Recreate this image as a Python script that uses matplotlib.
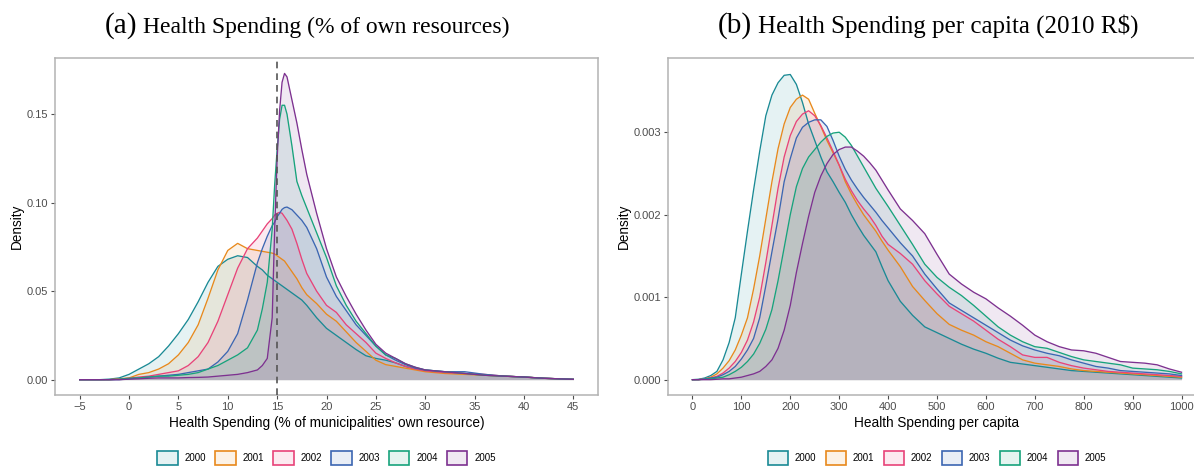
import numpy as np
import matplotlib
matplotlib.use("Agg")
import matplotlib.pyplot as plt
from matplotlib.patches import Patch
from matplotlib.colors import to_rgba

years = ["2000", "2001", "2002", "2003", "2004", "2005"]
colors = ["#1a8a95", "#e8891c", "#e84379", "#3c66b2", "#17a37c", "#7d3190"]

# panel (a): health spending as % of own resources
share_x = [-5, -3, -2, -1, 0, 1, 2, 3, 4, 5, 6, 7, 8, 9, 10, 11, 12, 13, 13.5, 14,
           14.5, 14.75, 15, 15.25, 15.5, 15.75, 16, 16.5, 17, 17.5, 18, 19, 20, 21, 22,
           23, 24, 25, 26, 27, 28, 29, 30, 32, 34, 36, 38, 40, 42, 45]
share_2000 = [0, 0, 0.0003, 0.001, 0.003, 0.006, 0.009, 0.013, 0.019, 0.026, 0.034, 0.044,
              0.055, 0.064, 0.068, 0.070, 0.069, 0.064, 0.062, 0.059, 0.057, 0.056, 0.055,
              0.054, 0.053, 0.052, 0.051, 0.049, 0.047, 0.045, 0.042, 0.035, 0.029, 0.025,
              0.021, 0.017, 0.0135, 0.012, 0.011, 0.0095, 0.0075, 0.006, 0.005, 0.004,
              0.0035, 0.0025, 0.002, 0.0015, 0.0008, 0.0002]
share_2001 = [0, 0, 0, 0.0005, 0.001, 0.003, 0.004, 0.006, 0.009, 0.014, 0.021, 0.031,
              0.046, 0.062, 0.073, 0.077, 0.074, 0.073, 0.0725, 0.072, 0.0715, 0.071, 0.070,
              0.069, 0.068, 0.067, 0.065, 0.061, 0.057, 0.052, 0.048, 0.043, 0.037, 0.033,
              0.027, 0.021, 0.016, 0.011, 0.0085, 0.0075, 0.0065, 0.0055, 0.0045, 0.0035,
              0.003, 0.0025, 0.002, 0.0015, 0.0008, 0.0002]
share_2002 = [0, 0, 0, 0.0003, 0.0008, 0.0015, 0.002, 0.003, 0.004, 0.005, 0.008, 0.013,
              0.021, 0.033, 0.048, 0.063, 0.074, 0.080, 0.084, 0.088, 0.091, 0.093, 0.094,
              0.0945, 0.094, 0.092, 0.090, 0.085, 0.077, 0.068, 0.060, 0.050, 0.042, 0.038,
              0.031, 0.026, 0.021, 0.015, 0.012, 0.0095, 0.0075, 0.006, 0.005, 0.004,
              0.0035, 0.003, 0.002, 0.0015, 0.0008, 0.0002]
share_2003 = [0, 0, 0, 0, 0.0005, 0.001, 0.0015, 0.002, 0.0025, 0.003, 0.004, 0.005, 0.006,
              0.010, 0.016, 0.026, 0.045, 0.066, 0.074, 0.081, 0.087, 0.089, 0.092, 0.094,
              0.0962, 0.0972, 0.0975, 0.096, 0.093, 0.090, 0.086, 0.074, 0.058, 0.047, 0.039,
              0.031, 0.025, 0.019, 0.014, 0.011, 0.0085, 0.0065, 0.0055, 0.0045, 0.0045,
              0.003, 0.002, 0.0015, 0.0008, 0.0002]
share_2004 = [0, 0, 0, 0.0003, 0.0008, 0.001, 0.0015, 0.002, 0.002, 0.0025, 0.003, 0.004,
              0.006, 0.008, 0.011, 0.014, 0.018, 0.028, 0.040, 0.055, 0.085, 0.110, 0.130,
              0.147, 0.155, 0.155, 0.150, 0.132, 0.112, 0.104, 0.097, 0.083, 0.069, 0.053,
              0.042, 0.033, 0.026, 0.019, 0.014, 0.012, 0.009, 0.007, 0.0055, 0.0045,
              0.0035, 0.0025, 0.002, 0.0015, 0.0008, 0.0002]
share_2005 = [0, 0, 0, 0, 0.0003, 0.0005, 0.0008, 0.001, 0.001, 0.001, 0.0012, 0.0013,
              0.0015, 0.002, 0.0025, 0.003, 0.004, 0.0055, 0.008, 0.012, 0.035, 0.085, 0.125,
              0.152, 0.168, 0.173, 0.171, 0.158, 0.145, 0.130, 0.116, 0.094, 0.074, 0.058,
              0.047, 0.037, 0.028, 0.020, 0.015, 0.012, 0.009, 0.007, 0.0055, 0.0045,
              0.0035, 0.0025, 0.002, 0.0015, 0.0008, 0.0002]

# panel (b): health spending per capita (2010 R$)
pc_x = [0, 12.5, 25, 37.5, 50, 62.5, 75, 87.5, 100, 112.5, 125, 137.5, 150, 162.5, 175,
        187.5, 200, 212.5, 225, 237.5, 250, 262.5, 275, 287.5, 300, 312.5, 325, 337.5,
        350, 362.5, 375, 387.5, 400, 425, 450, 475, 500, 525, 550, 575, 600, 625, 650,
        675, 700, 725, 750, 775, 800, 825, 850, 875, 900, 925, 950, 975, 1000]
pc_2000 = [0, 0.000005, 0.00002, 0.00005, 0.0001, 0.00024, 0.00045, 0.00075, 0.00128,
           0.0018, 0.0023, 0.00277, 0.0032, 0.00345, 0.0036, 0.00369, 0.0037, 0.00358,
           0.00336, 0.0031, 0.0029, 0.0027, 0.00252, 0.0024, 0.00227, 0.00215, 0.002,
           0.00187, 0.00175, 0.00165, 0.00155, 0.00137, 0.0012,
           0.00095, 0.00078, 0.00064, 0.00057, 0.0005, 0.00043, 0.00037, 0.00032, 0.00026,
           0.00021, 0.00019, 0.00017, 0.00015, 0.00013, 0.00011, 0.0001, 0.00009, 0.00008,
           0.00007, 0.00006, 0.00005, 0.00004, 0.00003, 0.00002]
pc_2001 = [0, 0, 0.00001, 0.00003, 0.00007, 0.00014, 0.00023, 0.00036, 0.00054, 0.00075,
           0.0011, 0.0015, 0.00195, 0.0024, 0.0028, 0.0031, 0.0033, 0.0034, 0.00345, 0.0034,
           0.00323, 0.00307, 0.0029, 0.00275, 0.0026, 0.0024, 0.00225, 0.00212, 0.002,
           0.0019, 0.0018, 0.00168, 0.00157,
           0.00137, 0.00113, 0.00096, 0.0008, 0.00067, 0.0006, 0.00054, 0.00046, 0.0004,
           0.00032, 0.00024, 0.0002, 0.00018, 0.00016, 0.00013, 0.00011, 0.0001, 0.00009,
           0.00008, 0.00007, 0.00006, 0.00005, 0.00004, 0.00003]
pc_2002 = [0, 0, 0.00001, 0.00002, 0.00004, 0.00008, 0.00014, 0.00022, 0.00033, 0.00048,
           0.0007, 0.001, 0.00142, 0.00187, 0.00232, 0.0027, 0.00296, 0.00313, 0.00322,
           0.00326, 0.0032, 0.00308, 0.00293, 0.00277, 0.0026, 0.00243, 0.00229, 0.00217,
           0.00207, 0.00198, 0.00187, 0.00174, 0.00164,
           0.00153, 0.0014, 0.0012, 0.00104, 0.00089, 0.0008, 0.00071, 0.0006, 0.00049,
           0.0004, 0.0003, 0.00027, 0.00027, 0.00021, 0.00017, 0.00014, 0.00012, 0.0001,
           0.00009, 0.00008, 0.00007, 0.00006, 0.00005, 0.00004]
pc_2003 = [0, 0, 0.00001, 0.00002, 0.00003, 0.00006, 0.0001, 0.00016, 0.00025, 0.00036,
           0.0005, 0.00075, 0.00114, 0.00155, 0.00195, 0.0024, 0.00268, 0.00293, 0.00306,
           0.00312, 0.00315, 0.00315, 0.00307, 0.0029, 0.00271, 0.00255, 0.00242, 0.00231,
           0.00221, 0.00212, 0.00203, 0.00193, 0.00184,
           0.00166, 0.0015, 0.00128, 0.0011, 0.00093, 0.00084, 0.00075, 0.00066, 0.00057,
           0.00048, 0.00041, 0.00036, 0.00032, 0.00029, 0.00024, 0.0002, 0.00016, 0.00014,
           0.00011, 0.0001, 0.00009, 0.00008, 0.00007, 0.00005]
pc_2004 = [0, 0, 0.000005, 0.00001, 0.00002, 0.00003, 0.00006, 0.0001, 0.00015, 0.00022,
           0.00031, 0.00044, 0.00061, 0.00085, 0.0012, 0.0016, 0.002, 0.00234, 0.00256,
           0.0027, 0.00279, 0.00288, 0.00295, 0.00299, 0.003, 0.00294, 0.00284, 0.00271,
           0.00258, 0.00245, 0.00232, 0.00221, 0.0021,
           0.00187, 0.00164, 0.0014, 0.00124, 0.00112, 0.00102, 0.0009, 0.00077, 0.00064,
           0.00054, 0.00046, 0.0004, 0.00038, 0.00033, 0.00028, 0.00024, 0.00022, 0.0002,
           0.00018, 0.00014, 0.00013, 0.00012, 0.0001, 0.00007]
pc_2005 = [0, 0, 0, 0, 0.000005, 0.00001, 0.00001, 0.00002, 0.00003, 0.00005, 0.00007,
           0.0001, 0.00016, 0.00024, 0.00038, 0.0006, 0.0009, 0.0013, 0.00165, 0.00198,
           0.00227, 0.00247, 0.00262, 0.00273, 0.00279, 0.00282, 0.00282, 0.00277, 0.00271,
           0.00263, 0.00254, 0.00242, 0.0023,
           0.00207, 0.00193, 0.00177, 0.00152, 0.00128, 0.00116, 0.00106, 0.00098, 0.00087,
           0.00077, 0.00066, 0.00054, 0.00046, 0.0004, 0.00036, 0.00035, 0.00032, 0.00027,
           0.00022, 0.00021, 0.0002, 0.00018, 0.00013, 0.00009]

share_series = [share_2000, share_2001, share_2002, share_2003, share_2004, share_2005]
pc_series = [pc_2000, pc_2001, pc_2002, pc_2003, pc_2004, pc_2005]

plt.rcParams['font.family'] = ['Liberation Sans', 'DejaVu Sans']
fig = plt.figure(figsize=(11.94, 4.66), dpi=100)

frame_col = '#b3b3b3'
tick_col = '#4d4d4d'


def density_panel(ax, x, series, xlim, ylim, xticks, yticks, ylabels, xlabel):
    for ys, c in zip(series, colors):
        ax.fill_between(x, 0, ys, color=c, alpha=0.11, lw=0)
        ax.plot(x, ys, color=c, lw=0.95)
    ax.set_xlim(*xlim)
    ax.set_ylim(*ylim)
    ax.set_xticks(xticks)
    ax.set_yticks(yticks)
    ax.set_yticklabels(ylabels)
    for s in ax.spines.values():
        s.set_color(frame_col)
        s.set_linewidth(1.1)
    ax.tick_params(colors=tick_col, labelsize=8, length=3, width=0.8, pad=2)
    ax.set_xlabel(xlabel, fontsize=9.8, labelpad=3)
    ax.set_ylabel("Density", fontsize=9.8, labelpad=2)
    # legend under each panel
    handles = [Patch(facecolor=to_rgba(c, 0.11), edgecolor=c, lw=1.2, label=y)
               for y, c in zip(years, colors)]
    ax.legend(handles=handles, loc='center', bbox_to_anchor=(0.5, -0.187),
              ncol=6, frameon=False, fontsize=7, handlelength=2.1, handleheight=1.9,
              handletextpad=0.7, columnspacing=0.95, borderaxespad=0, borderpad=0)


ax1 = fig.add_axes([55 / 1194, 71 / 466, 543 / 1194, 337 / 466])
density_panel(ax1, share_x, share_series, (-7.5, 47.5), (-0.00865, 0.1817),
              range(-5, 46, 5), [0, 0.05, 0.10, 0.15], ["0.00", "0.05", "0.10", "0.15"],
              "Health Spending (% of municipalities' own resource)")
ax1.axvline(15, color='#555555', ls=(0, (4, 3)), lw=1.2, zorder=5)

ax2 = fig.add_axes([668 / 1194, 71 / 466, 538 / 1194, 337 / 466])
density_panel(ax2, pc_x, pc_series, (-50, 1050), (-0.000186, 0.0039),
              range(0, 1001, 100), [0, 0.001, 0.002, 0.003],
              ["0.000", "0.001", "0.002", "0.003"], "Health Spending per capita")

# panel titles
ty = 1 - 33 / 466
fig.text(137 / 1194, ty, "(a)", fontsize=21, family='Liberation Serif', ha='right', va='baseline')
fig.text(143 / 1194, ty, "Health Spending (% of own resources)", fontsize=17,
         family='Liberation Serif', ha='left', va='baseline')
fig.text(752 / 1194, ty, "(b)", fontsize=21, family='Liberation Serif', ha='right', va='baseline')
fig.text(758 / 1194, ty, "Health Spending per capita (2010 R\\$)", fontsize=18,
         family='Liberation Serif', ha='left', va='baseline')

fig.savefig("out.png", dpi=100)
